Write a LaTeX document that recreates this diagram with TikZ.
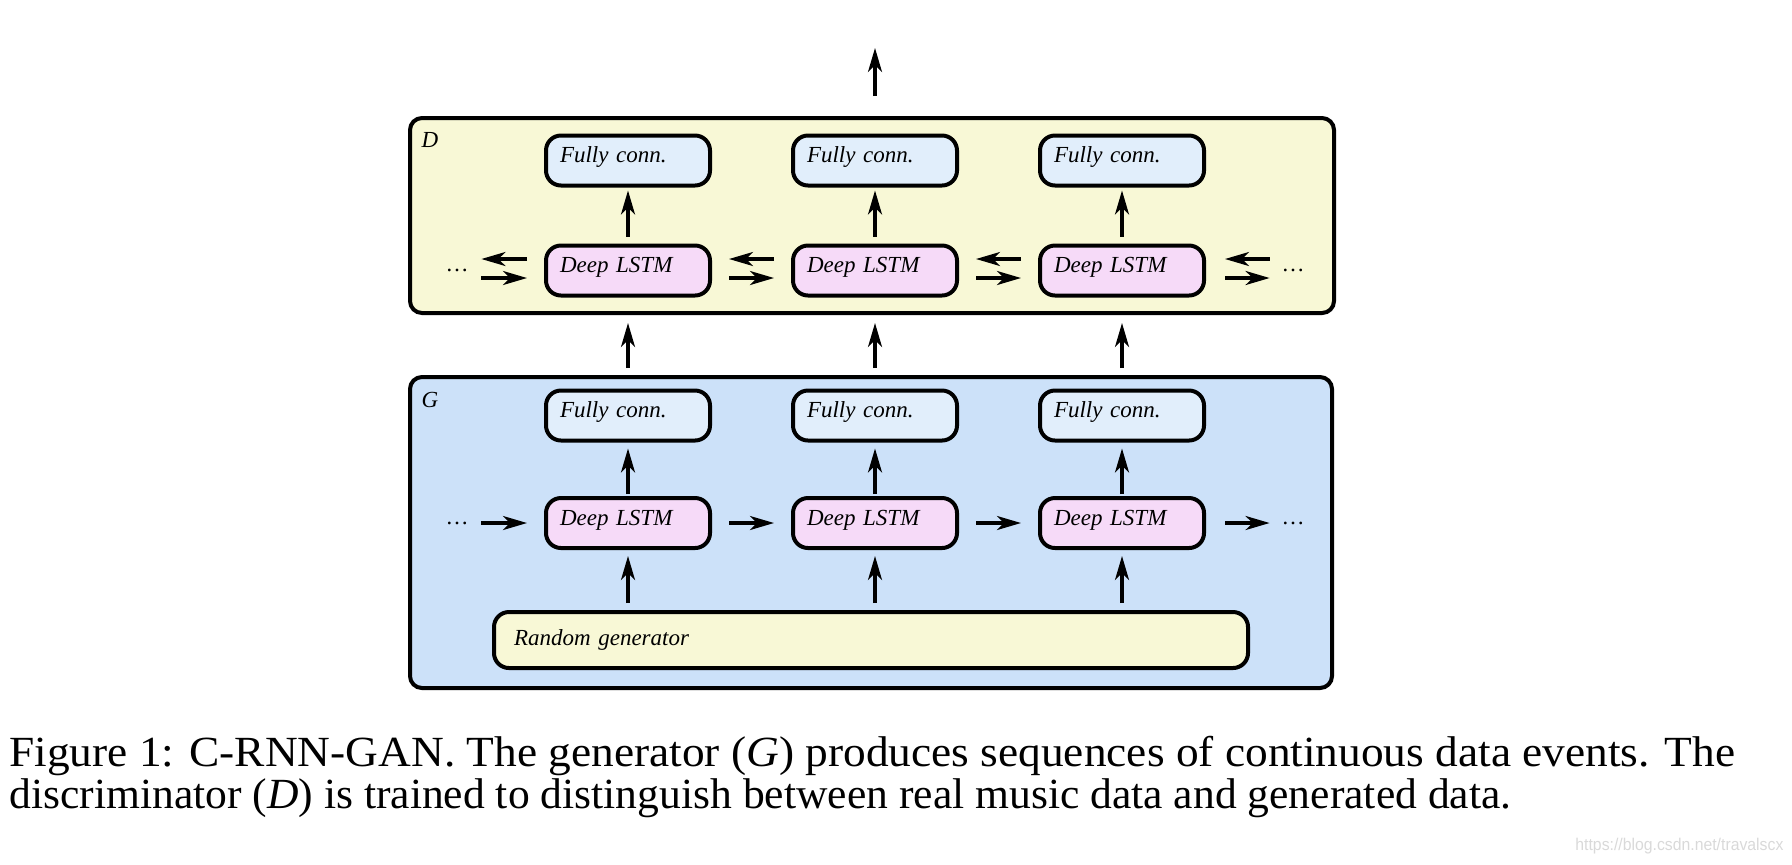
\documentclass[tikz,border=0pt]{standalone}
\usepackage{fontspec}
\usepackage{graphicx}
\setmainfont{Liberation Serif}
\newfontfamily\wmfont{Liberation Sans}
\usetikzlibrary{arrows.meta}
\definecolor{dyel}{HTML}{F8F8D6}
\definecolor{gblue}{HTML}{CCE1F9}
\definecolor{fcblue}{HTML}{E1EEFB}
\definecolor{lstmpink}{HTML}{F6DAF8}
\begin{document}
\begin{tikzpicture}[x=0.5pt,y=-0.5pt,
  outer/.style={draw, line width=2pt, rounded corners=6pt, inner sep=0pt},
  unit/.style={draw, line width=2pt, rounded corners=7.5pt, minimum width=81pt, minimum height=25pt,
    inner xsep=7pt, inner ysep=0pt, text width=68pt, text height=8pt, text depth=6pt, align=left,
    font=\fontsize{11.5}{13}\selectfont\itshape},
  fc/.style={unit, fill=fcblue},
  lstm/.style={unit, fill=lstmpink},
  rgbox/.style={draw, line width=2pt, rounded corners=7.5pt, fill=dyel, minimum width=377pt, minimum height=28pt,
    inner xsep=10pt, inner ysep=0pt, text width=357pt, text height=8pt, text depth=3pt, align=left,
    font=\fontsize{11.5}{13}\selectfont\itshape},
  arr/.style={line width=1.6pt, -{Stealth[length=12pt,width=7pt,inset=3.5pt]}},
  lbl/.style={font=\fontsize{11.5}{13}\selectfont\itshape, inner sep=0pt},
  dotsn/.style={font=\fontsize{11.5}{13}\selectfont, inner sep=0pt},
  captxt/.style={anchor=base west, inner sep=0pt}]
\useasboundingbox (0,0) rectangle (1792,864);

% outer boxes
\node[outer, fill=dyel, minimum width=462pt, minimum height=97.5pt] (D) at (872,215.5) {};
\node[outer, fill=gblue, minimum width=461pt, minimum height=155.5pt] (G) at (871,532.5) {};
\node[lbl] (Dl) at (430,140) {D};
\node[lbl] (Gl) at (430,400) {G};

% D units
\node[fc] (dfc1) at (628,160.5) {Fully conn.};
\node[fc] (dfc2) at (875,160.5) {Fully conn.};
\node[fc] (dfc3) at (1122,160.5) {Fully conn.};
\node[lstm] (dl1) at (628,270.5) {Deep LSTM};
\node[lstm] (dl2) at (875,270.5) {Deep LSTM};
\node[lstm] (dl3) at (1122,270.5) {Deep LSTM};
\node[dotsn] (ddl) at (457,270.5) {\ldots};
\node[dotsn] (ddr) at (1293,270.5) {\ldots};

% G units
\node[fc] (gfc1) at (628,415.5) {Fully conn.};
\node[fc] (gfc2) at (875,415.5) {Fully conn.};
\node[fc] (gfc3) at (1122,415.5) {Fully conn.};
\node[lstm] (gl1) at (628,523) {Deep LSTM};
\node[lstm] (gl2) at (875,523) {Deep LSTM};
\node[lstm] (gl3) at (1122,523) {Deep LSTM};
\node[dotsn] (gdl) at (457,523) {\ldots};
\node[dotsn] (gdr) at (1293,523) {\ldots};
\node[rgbox] (rg) at (871,640) {Random generator};

% top output arrow
\coordinate (tops) at (875,96);
\coordinate (tope) at (875,48);
\draw[arr] (tops) -- (tope);

% vertical arrows
\foreach \i in {1,2,3}{
  \draw[arr, shorten <=3.5pt, shorten >=1.5pt] (dl\i) -- (dfc\i);
  \draw[arr, shorten <=1pt, shorten >=3pt] (gl\i) -- (gfc\i);
  \draw[arr, shorten <=3.5pt, shorten >=3pt] (rg.north -| gl\i) -- (gl\i);
  \draw[arr, shorten <=3.5pt, shorten >=4pt] (G.north -| gfc\i) -- (D.south -| dfc\i);
}

% D horizontal double arrows
\draw[arr, shorten <=8.5pt, shorten >=6.25pt] ([yshift=5.75pt]dl1.west) -- ([yshift=5.75pt]ddl.east);
\draw[arr, shorten <=6.25pt, shorten >=8.5pt] ([yshift=-3.75pt]ddl.east) -- ([yshift=-3.75pt]dl1.west);
\draw[arr, shorten <=8.5pt, shorten >=8.5pt] ([yshift=5.75pt]dl2.west) -- ([yshift=5.75pt]dl1.east);
\draw[arr, shorten <=8.5pt, shorten >=8.5pt] ([yshift=-3.75pt]dl1.east) -- ([yshift=-3.75pt]dl2.west);
\draw[arr, shorten <=8.5pt, shorten >=8.5pt] ([yshift=5.75pt]dl3.west) -- ([yshift=5.75pt]dl2.east);
\draw[arr, shorten <=8.5pt, shorten >=8.5pt] ([yshift=-3.75pt]dl2.east) -- ([yshift=-3.75pt]dl3.west);
\draw[arr, shorten <=5.75pt, shorten >=9.5pt] ([yshift=5.75pt]ddr.west) -- ([yshift=5.75pt]dl3.east);
\draw[arr, shorten <=9.5pt, shorten >=5.75pt] ([yshift=-3.75pt]dl3.east) -- ([yshift=-3.75pt]ddr.west);

% G horizontal arrows
\draw[arr, shorten <=6.25pt, shorten >=8.5pt] (gdl) -- (gl1);
\draw[arr, shorten <=8.5pt, shorten >=8.5pt] (gl1) -- (gl2);
\draw[arr, shorten <=8.5pt, shorten >=8.5pt] (gl2) -- (gl3);
\draw[arr, shorten <=9.5pt, shorten >=5.75pt] (gl3) -- (gdr);

% caption
\node[captxt] (cap1) at (9,766) {\resizebox{863pt}{\height}{\fontsize{21.5}{24}\selectfont Figure 1: C-RNN-GAN. The generator (\textit{G}) produces sequences of continuous data events. The}};
\node[captxt] (cap2) at (9,808) {\resizebox{751pt}{\height}{\fontsize{21.5}{24}\selectfont discriminator (\textit{D}) is trained to distinguish between real music data and generated data.}};
\node[captxt, text=black!15] (wm) at (1575,850) {\resizebox{104pt}{\height}{\wmfont\fontsize{8.5}{9}\selectfont https://blog.csdn.net/travalscx}};
\end{tikzpicture}
\end{document}
